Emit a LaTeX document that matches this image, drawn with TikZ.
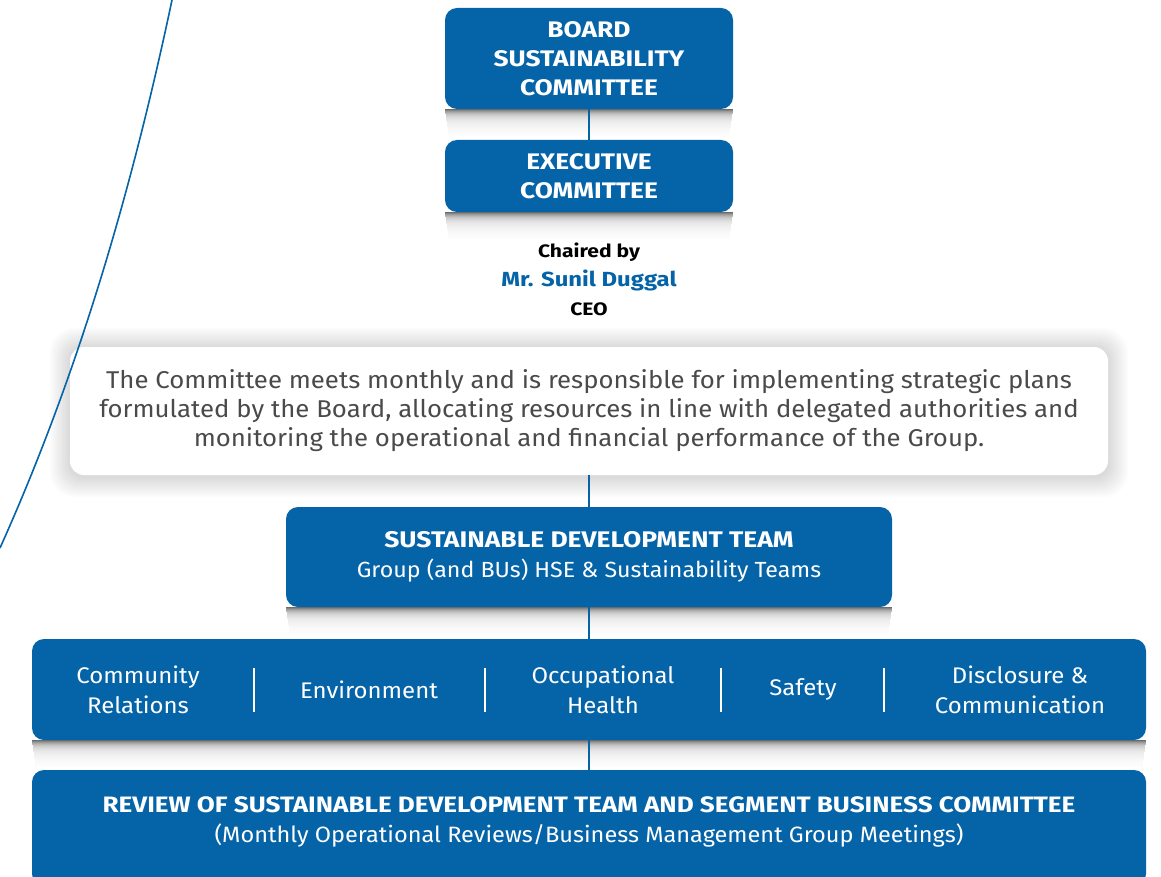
\documentclass[tikz,border=0pt]{standalone}
\usepackage{fontspec}
\setmainfont{Fira Sans}[FakeStretch=1.06]
\newfontfamily\wideb{Fira Sans}[FakeStretch=1.17]
\usetikzlibrary{calc}
\definecolor{sblue}{HTML}{0563A8}
\definecolor{bodygray}{HTML}{4A4A4A}
\tikzset{
  bluebox/.style={fill=sblue, rounded corners=12pt, inner sep=0pt},
  whitebox/.style={fill=white, rounded corners=14pt, inner sep=0pt},
  boxtext/.style={text=white, align=center, inner sep=0pt},
  bt/.style={font=\wideb\bfseries\fontsize{#1}{29}\selectfont},
  link/.style={draw=sblue, line width=1.4pt},
  divider/.style={draw=white, line width=1.2pt},
}
% soft shadow band below a box: stacked strips of decreasing grey
\newcommand\boxshadow[1]{%
  \foreach \d in {0,...,27}{%
    \pgfmathsetmacro\c{50*exp(-\d/4.5)+8*(1-\d/28)}%
    \pgfmathsetmacro\m{min(3,0.15*\d)}%
    \fill[black!\c] ($(#1.south west)+(\m,\d)$) rectangle ($(#1.south east)+(-\m,\d+1.1)$);
  }}
\begin{document}
\begin{tikzpicture}[x=1pt,y=-1pt]
\useasboundingbox[fill=white] (0,0) rectangle (1161,877);

% white box glow
\foreach \r in {1,...,12}
  \fill[black, opacity=0.013, rounded corners=14pt+\r pt]
    ($(70,348)+(-1.7*\r,-1.7*\r)$) rectangle ($(1108,477)+(1.7*\r,1.7*\r)$);

% boxes
\node[bluebox, minimum width=288pt, minimum height=101pt] (board) at (589,58.5) {};
\node[bluebox, minimum width=288pt, minimum height=72pt] (exec) at (589,176) {};
\node[whitebox, minimum width=1038pt, minimum height=128pt] (white) at (589,411) {};
\node[bluebox, minimum width=606pt, minimum height=100pt] (sd) at (589,557) {};
\node[bluebox, minimum width=1114pt, minimum height=101pt] (cat) at (589,689.5) {};
\node[bluebox, minimum width=1114pt, minimum height=116pt] (rev) at (589,828) {};

% shadows below blue boxes
\boxshadow{board}
\boxshadow{exec}
\boxshadow{sd}
\boxshadow{cat}

\draw[link] (board.south) -- (exec.north);
\draw[link] (white.south) -- (sd.north);
\draw[link] (sd.south) -- (cat.north);
\draw[link] (cat.south) -- (rev.north);

% texts
\node[boxtext, bt=22.5] (boardt) at (board.center) {BOARD\\SUSTAINABILITY\\COMMITTEE};
\node[boxtext, bt=22.5] (exect) at (exec.center) {EXECUTIVE\\COMMITTEE};
\node[align=center, inner sep=0pt, font=\wideb\bfseries\fontsize{18}{29}\selectfont] (chair) at (589,279)
  {Chaired by\\\textcolor{sblue}{\fontsize{20.4}{29}\selectfont Mr. Sunil Duggal}\\CEO};
\node[align=center, inner sep=0pt, text=bodygray, font=\fontsize{24.3}{29}\selectfont] (whitet) at (white.center)
  {The Committee meets monthly and is responsible for implementing strategic plans\\
   formulated by the Board, allocating resources in line with delegated authorities and\\
   monitoring the operational and financial performance of the Group.};
\node[boxtext, font=\fontsize{21.9}{30}\selectfont] (sdt) at (sd.center)
  {{\wideb\bfseries\fontsize{22.6}{30}\selectfont SUSTAINABLE DEVELOPMENT TEAM}\\Group (and BUs) HSE \& Sustainability Teams};

\node[boxtext, font=\fontsize{22.6}{30}\selectfont] (c1) at (138,689.5) {Community\\Relations};
\node[boxtext, font=\fontsize{22.6}{30}\selectfont] (c2) at (369,689.5) {Environment};
\node[boxtext, font=\fontsize{22.6}{30}\selectfont] (c3) at (603,689.5) {Occupational\\Health};
\node[boxtext, font=\fontsize{22.6}{30}\selectfont] (c4) at (803,689.5) {Safety};
\node[boxtext, font=\fontsize{22.6}{30}\selectfont] (c5) at (1020,689.5) {Disclosure \&\\Communication};
\foreach \x in {254,485,721,884} \draw[divider] (\x,668) -- (\x,712);

\node[boxtext, font=\fontsize{22.2}{30}\selectfont] (revt) at (589,822)
  {{\wideb\bfseries\fontsize{22.3}{30}\selectfont REVIEW OF SUSTAINABLE DEVELOPMENT TEAM AND SEGMENT BUSINESS COMMITTEE}\\(Monthly Operational Reviews/Business Management Group Meetings)};

% decorative curve
\draw[sblue, line width=1.6pt] (172,0) .. controls (134,180) and (81,368) .. (0,548);
\end{tikzpicture}
\end{document}
